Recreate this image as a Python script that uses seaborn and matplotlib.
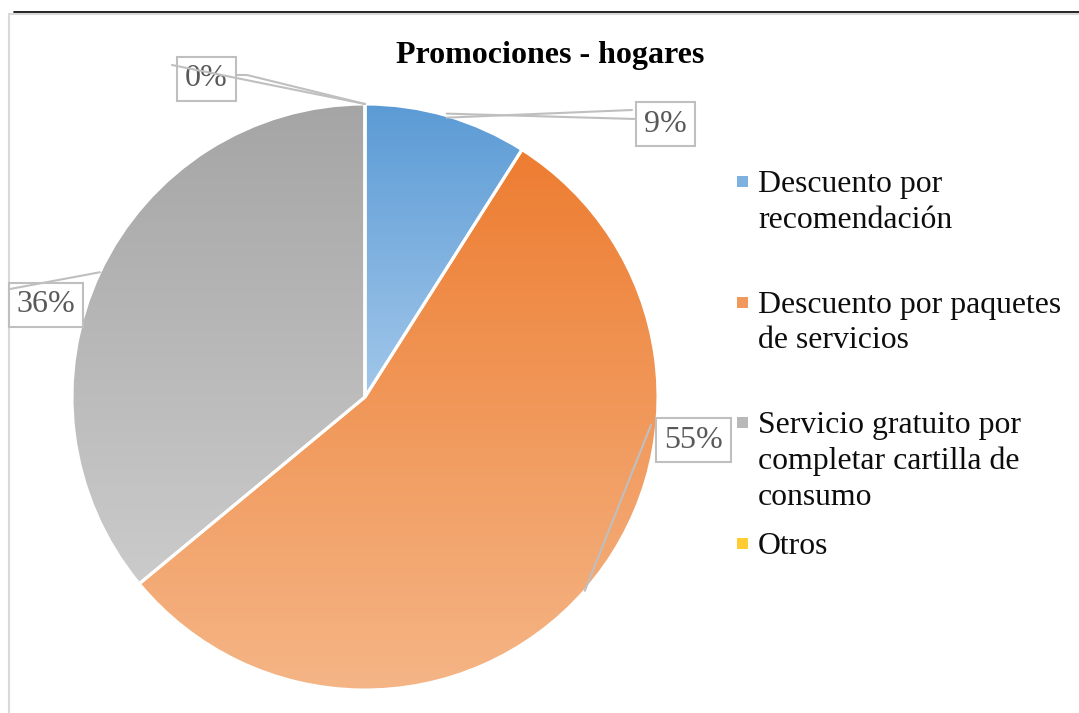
import numpy as np
import matplotlib
matplotlib.use("Agg")
import matplotlib.pyplot as plt
from matplotlib.patches import Rectangle
import seaborn as sns

# datos
categorias = ["Descuento por\nrecomendación",
              "Descuento por paquetes\nde servicios",
              "Servicio gratuito por\ncompletar cartilla de\nconsumo",
              "Otros"]
porcentajes = [9, 55, 36, 0]
titulo = "Promociones - hogares"

# colores degradados (arriba, abajo)
grad = [("#5B9BD5", "#A2C7EA"),
        ("#ED7D31", "#F5B586"),
        ("#A5A5A5", "#CBCBCB"),
        ("#FFC000", "#FFD966")]

sns.set_style("white")
plt.rcParams['font.family'] = ['Liberation Serif', 'DejaVu Serif']

W, H = 1079, 713
fig = plt.figure(figsize=(W / 100, H / 100), dpi=100)
ax = fig.add_axes([0, 0, 1, 1])

def Y(y):
    return H - y

cx, cy, r = 365, Y(397), 293
wedges, _ = ax.pie(porcentajes, startangle=90, counterclock=False,
                   center=(cx, cy), radius=r, frame=True,
                   wedgeprops=dict(facecolor="none", edgecolor="white", linewidth=2.2))
ax.set_xlim(0, W)
ax.set_ylim(0, H)
ax.axis("off")

for w, (c1, c2) in zip(wedges, grad):
    w.set_zorder(3)
    ext = w.get_path().get_extents()
    if ext.height < 1:
        continue
    cmap = sns.blend_palette([c1, c2], as_cmap=True)
    g = cmap(np.linspace(0, 1, 256))[:, None, :]
    im = ax.imshow(g, extent=[ext.x0, ext.x1, ext.y0, ext.y1], origin="upper",
                   aspect="auto", zorder=2, interpolation="bilinear")
    im.set_clip_path(w)

# etiquetas de porcentaje
lc = "#BFBFBF"
pos_etq = [(665.5, 124), (693.5, 440), (46, 305), (206.5, 79)]
for (x, y), v in zip(pos_etq, porcentajes):
    ax.text(x, Y(y), f"{v}%", ha="center", va="center", fontsize=23, color="#595959",
            zorder=6,
            bbox=dict(boxstyle="square,pad=0.25", fc="white", ec=lc, lw=1.5))

def borde(w):
    a = np.deg2rad((w.theta1 + w.theta2) / 2)
    return cx + r * np.cos(a), cy + r * np.sin(a)

# líneas guía
p0 = borde(wedges[0])
ax.plot([p0[0], 632], [p0[1] - 2, Y(110)], color=lc, lw=1.5, zorder=5)
ax.plot([p0[0], 636], [p0[1] + 2, Y(119)], color=lc, lw=1.5, zorder=5)
p1 = borde(wedges[1])
ax.plot([p1[0], 651], [p1[1], Y(425)], color=lc, lw=1.5, zorder=5)
p2 = borde(wedges[2])
ax.plot([p2[0], 10], [p2[1], Y(289)], color=lc, lw=1.5, zorder=7)
p3 = borde(wedges[3])
ax.plot([172, p3[0]], [Y(65), p3[1]], color=lc, lw=1.5, zorder=7)
ax.plot([236, 247, p3[0]], [Y(75), Y(75), p3[1]], color=lc, lw=1.5, zorder=5)

# leyenda
for i, (lab, (c1, c2)) in enumerate(zip(categorias, grad)):
    base = 192 + 120.5 * i
    col = sns.blend_palette([c1, c2], 3)[1]
    ax.add_patch(Rectangle((737, Y(base - 5)), 11, 11, fc=col, ec="none", zorder=5))
    for j, linea in enumerate(lab.split("\n")):
        ax.text(758, Y(base + 36 * j), linea, ha="left", va="baseline",
                fontsize=22.9, color="#0D0D0D")

# título
ax.text(550, Y(56), titulo, ha="center", va="center", fontsize=23,
        fontweight="bold", color="black")

# marco
ax.plot([14, W], [Y(12), Y(12)], color="black", lw=1.2, zorder=8)
ax.plot([9, W], [Y(14), Y(14)], color="#D9D9D9", lw=1.5, zorder=1)
ax.plot([9, 9], [Y(14), 0], color="#D9D9D9", lw=1.5, zorder=1)

fig.savefig("out.png", dpi=100)
